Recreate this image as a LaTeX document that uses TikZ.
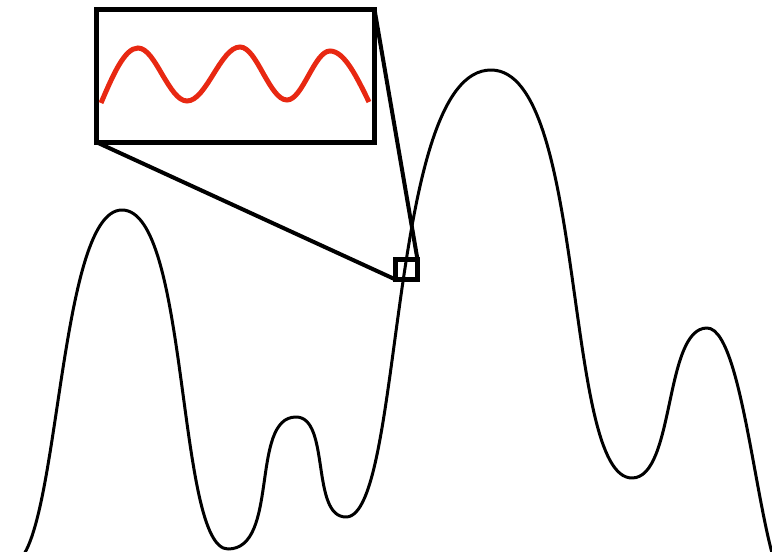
\documentclass[tikz,border=0pt]{standalone}
\definecolor{wavered}{RGB}{232,40,18}
\tikzset{
  curve/.style={line width=3pt, line join=round},
  lens/.style={draw, line width=5pt, inner sep=0pt, outer sep=0pt},
  link/.style={line width=4pt},
  wave/.style={draw=wavered, line width=5pt}
}
\begin{document}
\begin{tikzpicture}[x=1pt,y=-1pt]
\useasboundingbox (0,0) rectangle (772,552);
\draw[curve] (10,565) .. controls (60,565) and (56,210) .. (122,210)
  .. controls (189.5,210) and (176.5,549) .. (228,549)
  .. controls (279.7,549) and (249.7,417) .. (296,417)
  .. controls (330.5,417) and (310.5,517) .. (346,517)
  .. controls (404,517) and (387,70) .. (491,70)
  .. controls (587,70) and (563,478) .. (632,478)
  .. controls (675,478) and (664,328) .. (707,328)
  .. controls (748,328) and (760,590) .. (792,590);
\node[lens, minimum width=278.5pt, minimum height=132.5pt] (mag) at (235.25,75.75) {};
\node[lens, minimum width=22pt, minimum height=20pt] (sq) at (406.5,269.5) {};
\draw[link] (mag.south west) -- (sq.south west);
\draw[link] (mag.north east) -- (sq.north east);
\draw[wave] (101,103) sin (138,48) cos (162.5,75) sin (187,101) cos (213.5,74) sin (240,47)
  cos (263.5,74) sin (287,100) cos (308.5,75.5) sin (330,51) cos (369,102);
\end{tikzpicture}
\end{document}
